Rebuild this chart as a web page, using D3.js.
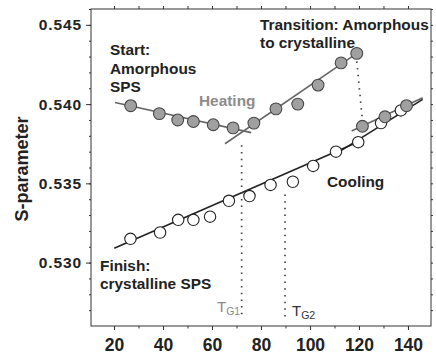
<!DOCTYPE html>
<html><head><meta charset="utf-8">
<script src="https://cdn.jsdelivr.net/npm/d3@7"></script>
<style>
body{margin:0;background:#fff}
text{font-family:"Liberation Sans",Arial,sans-serif}
</style>
</head><body><svg id="c" width="436" height="358"></svg>
<script>
// Heating run (grey markers): temperature (°C) and S-parameter
const heatingT = [26.8, 38.5, 46.0, 52.4, 60.5, 68.6, 77.1, 86.1, 95.0, 103.3, 112.7, 119.1, 121.4, 130.6, 139.4];
const heatingS = [0.5399, 0.5394, 0.5390, 0.5389, 0.5387, 0.5385, 0.5388, 0.5397, 0.5400, 0.5412, 0.5426, 0.5432, 0.5386, 0.5392, 0.5399];
// Cooling run (open markers)
const coolingT = [26.7, 38.8, 46.2, 52.4, 59.2, 66.9, 75.3, 83.9, 93.0, 101.3, 110.6, 119.7, 129.0, 137.1];
const coolingS = [0.5315, 0.5319, 0.5327, 0.5327, 0.5329, 0.5339, 0.5342, 0.5349, 0.5351, 0.5361, 0.5370, 0.5376, 0.5388, 0.5396];
// Linear trend segments [T, S] pairs
const heatFitA = [[20.4, 0.5401], [76.0, 0.5382]];
const heatFitB = [[65.3, 0.5375], [119.1, 0.5432]];
const heatFitC = [[117.0, 0.5383], [146.0, 0.5404]];
const coolFitA = [[20.1, 0.5309], [121.0, 0.5377]];
const coolFitB = [[112.0, 0.5370], [146.0, 0.5403]];
// Glass-transition markers
const tgT = [72.1, 89.8];
const tgTopS = [0.5374, 0.5343];
const tgBottomS = 0.5266;
const tgNames = ["G1", "G2"];
// Axis ticks
const xTicks = [20, 40, 60, 80, 100, 120, 140];
const yTicks = [0.530, 0.535, 0.540, 0.545];

const svg = d3.select("#c");
const x = d3.scaleLinear().domain([10.6, 149.4]).range([91, 431]);
const y = d3.scaleLinear().domain([0.526, 0.546]).range([326, 9]);

const ink = "#222";

// frame
svg.append("rect").attr("x", 91).attr("y", 9).attr("width", 340).attr("height", 317)
  .attr("fill", "none").attr("stroke", "#333").attr("stroke-width", 1);

// minor ticks
const xMinor = d3.range(20, 150, 10);
const yMinor = d3.range(0.527, 0.5461, 0.001);
svg.append("g").attr("transform", "translate(0,326)")
  .call(d3.axisBottom(x).tickValues(xMinor).tickSize(2.5).tickFormat(""))
  .call(g => g.select(".domain").remove());
svg.append("g").attr("transform", "translate(0,9)")
  .call(d3.axisTop(x).tickValues(xMinor).tickSize(3).tickFormat(""))
  .call(g => g.select(".domain").remove());
svg.append("g").attr("transform", "translate(91,0)")
  .call(d3.axisLeft(y).tickValues(yMinor).tickSize(2).tickFormat(""))
  .call(g => g.select(".domain").remove());
svg.append("g").attr("transform", "translate(431,0)")
  .call(d3.axisLeft(y).tickValues(yMinor).tickSize(-2).tickFormat(""))
  .call(g => g.select(".domain").remove());
svg.selectAll("g line").attr("stroke", "#555");

// major axes
const xAxis = svg.append("g").attr("transform", "translate(0,326)")
  .call(d3.axisBottom(x).tickValues(xTicks).tickSize(4).tickFormat(d3.format("d")));
xAxis.select(".domain").remove();
xAxis.selectAll("text").attr("y", 25).attr("dy", null)
  .style("font-size", "17.5px").style("font-weight", "bold").attr("fill", ink);

const yAxis = svg.append("g").attr("transform", "translate(91,0)")
  .call(d3.axisLeft(y).tickValues(yTicks).tickSize(5).tickPadding(4).tickFormat(d3.format(".3f")));
yAxis.select(".domain").remove();
yAxis.selectAll("text").style("font-size", "15.5px").style("font-weight", "bold")
  .style("letter-spacing", "0.9px").attr("fill", ink);
svg.selectAll(".tick line").attr("stroke", "#333");

svg.append("text").attr("transform", "translate(28,169) rotate(-90)")
  .attr("text-anchor", "middle").style("font-size", "18px").style("font-weight", "bold")
  .attr("fill", ink).text("S-parameter");

// trend lines
const line = d3.line().x(d => x(d[0])).y(d => y(d[1]));
[heatFitA, heatFitB, heatFitC].forEach(seg =>
  svg.append("path").attr("d", line(seg)).attr("stroke", "#666").attr("stroke-width", 1.6).attr("fill", "none"));
[coolFitA, coolFitB].forEach(seg =>
  svg.append("path").attr("d", line(seg)).attr("stroke", "#222").attr("stroke-width", 1.6).attr("fill", "none"));

// dotted guides
const dotted = sel => sel.attr("stroke", "#444").attr("stroke-width", 1.7)
  .attr("stroke-dasharray", "1.5 5.2").attr("fill", "none");
tgT.forEach((t, i) => {
  svg.append("line").attr("x1", x(t)).attr("x2", x(t))
    .attr("y1", y(tgTopS[i])).attr("y2", y(tgBottomS)).call(dotted);
});
// transition drop
svg.append("line").attr("x1", x(heatingT[11])).attr("y1", y(heatingS[11]) + 8)
  .attr("x2", x(heatingT[12])).attr("y2", y(heatingS[12]) - 6).call(dotted);

// markers
const cool = coolingT.map((t, i) => [t, coolingS[i]]);
const heat = heatingT.map((t, i) => [t, heatingS[i]]);
svg.append("g").selectAll("circle").data(cool).join("circle")
  .attr("cx", d => x(d[0])).attr("cy", d => y(d[1])).attr("r", 5.7)
  .attr("fill", "#fff").attr("stroke", "#222").attr("stroke-width", 1.1);
svg.append("g").selectAll("circle").data(heat).join("circle")
  .attr("cx", d => x(d[0])).attr("cy", d => y(d[1])).attr("r", 5.9)
  .attr("fill", "#a0a0a0").attr("stroke", "#474747").attr("stroke-width", 1.1);

// annotations
function label(lines, px, py, lh, color) {
  const t = svg.append("text").attr("x", px).attr("y", py)
    .style("font-size", "15.4px").style("font-weight", "bold").attr("fill", color || ink);
  lines.forEach((s, i) => t.append("tspan").attr("x", px).attr("dy", i ? lh : 0).text(s));
}
label(["Start:", "Amorphous", "SPS"], 110, 55, 18.5);
label(["Transition: Amorphous", "to crystalline"], 260, 30, 18);
label(["Heating"], 199, 106, 0, "#8c8c8c");
label(["Cooling"], 327, 187, 0);
label(["Finish:", "crystalline SPS"], 100, 271, 17.5);

// T_G labels
const tgLabelPos = [[217, 312, "#8a8a8a"], [292, 316, "#333"]];
tgLabelPos.forEach((p, i) => {
  const t = svg.append("text").attr("x", p[0]).attr("y", p[1]).attr("fill", p[2])
    .style("font-size", "15px");
  t.append("tspan").text("T");
  t.append("tspan").attr("dy", 3).style("font-size", "10.5px").text(tgNames[i]);
});
</script>
</body></html>
